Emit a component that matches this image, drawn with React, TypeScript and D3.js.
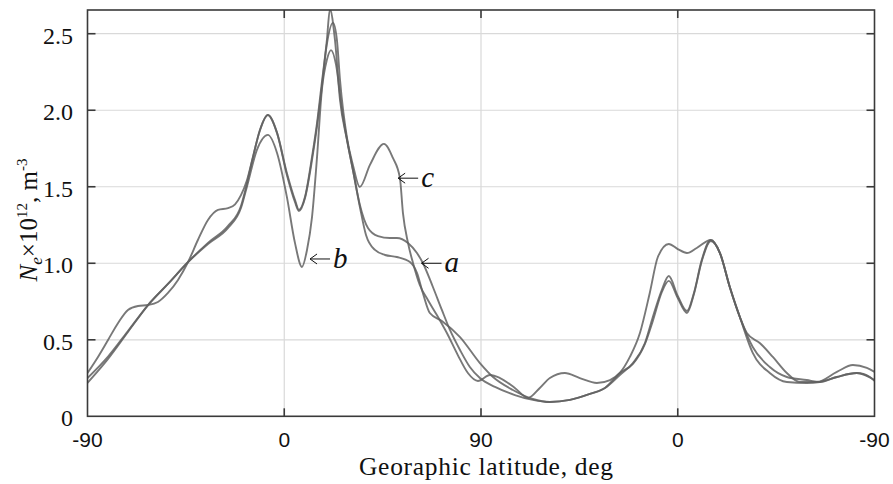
import React from "react";
import * as d3 from "d3";

// Track position along the orbit (deg travelled, 0..360) and tick labels in latitude
const xTicks = [0, 90, 180, 270, 360];
const xTickLabels = ["-90", "0", "90", "0", "-90"];
const yTicks = [0, 0.5, 1, 1.5, 2, 2.5];
const yTickLabels = ["0", "0.5", "1.0", "1.5", "2.0", "2.5"];

// Ne x 1e12 m^-3 along the track
const curveA: [number, number][] = [
  [0, 0.25], [9.4, 0.39], [18.5, 0.557], [27.7, 0.727], [36.8, 0.865], [46.0, 1.008], [55.1, 1.133],
  [64.3, 1.244], [70.2, 1.374], [73.0, 1.525], [75.7, 1.695], [78.9, 1.871], [82.5, 1.969], [86.7, 1.852],
  [91.2, 1.59], [94.9, 1.414], [96.7, 1.349], [99.5, 1.434], [102.7, 1.695], [105.0, 1.917], [106.8, 2.133],
  [109.5, 2.459], [110.9, 2.66], [113.2, 2.459], [115.5, 2.068], [118.7, 1.806], [121.4, 1.61], [124.6, 1.381],
  [128.3, 1.231], [132.9, 1.178], [138.3, 1.165], [141.5, 1.165], [146.6, 1.133], [150.7, 1.067], [153.4, 1.002],
  [158.0, 0.845], [162.1, 0.695], [165.8, 0.564], [170.4, 0.433], [174.9, 0.322], [179.5, 0.25], [186.4, 0.192],
  [195.5, 0.139], [203.7, 0.107], [211.5, 0.093], [220.7, 0.107], [229.8, 0.146], [236.7, 0.185], [243.5, 0.27],
  [249.5, 0.348], [255.0, 0.479], [258.6, 0.649], [262.7, 0.825], [265.9, 0.917], [270.0, 0.786], [274.2, 0.688],
  [277.4, 0.806], [281.0, 1.022], [285.1, 1.152], [289.3, 1.067], [293.8, 0.845], [298.4, 0.649], [304.3, 0.453],
  [312.1, 0.322], [319.9, 0.257], [329.0, 0.237], [335.0, 0.224], [342.8, 0.257], [351.9, 0.283], [357.9, 0.257],
  [360, 0.231],
];

const curveB: [number, number][] = [
  [0, 0.218], [9.4, 0.375], [18.5, 0.551], [27.7, 0.727], [36.8, 0.865], [46.0, 1.008], [55.1, 1.126],
  [64.3, 1.231], [70.2, 1.361], [72.9, 1.499], [77.5, 1.741], [82.5, 1.839], [86.7, 1.721], [91.2, 1.434],
  [94.9, 1.133], [98.1, 0.976], [100.4, 1.087], [102.7, 1.302], [105.0, 1.695], [107.2, 2.133], [109.5, 2.329],
  [111.4, 2.393], [113.7, 2.296], [116.4, 2.002], [118.7, 1.806], [121.4, 1.61], [124.6, 1.368], [127.4, 1.185],
  [131.5, 1.087], [136.1, 1.054], [141.5, 1.041], [147.5, 1.008], [150.7, 0.937], [153.4, 0.806], [156.6, 0.675],
  [162.1, 0.623], [170.4, 0.518], [179.5, 0.348], [185.5, 0.257], [194.6, 0.172], [203.7, 0.113], [211.5, 0.093],
  [220.7, 0.107], [229.8, 0.146], [236.7, 0.185], [243.5, 0.283], [249.5, 0.342], [255.0, 0.473], [258.6, 0.623],
  [262.7, 0.812], [265.9, 0.885], [270.0, 0.773], [274.2, 0.675], [277.4, 0.799], [281.0, 1.015], [285.1, 1.146],
  [289.3, 1.067], [293.8, 0.845], [298.4, 0.649], [304.3, 0.414], [312.1, 0.283], [319.9, 0.224], [329.0, 0.218],
  [335.0, 0.224], [342.8, 0.257], [351.9, 0.283], [360, 0.237],
];

const curveC: [number, number][] = [
  [0, 0.283], [4.8, 0.388], [9.4, 0.499], [14.0, 0.61], [18.5, 0.695], [23.1, 0.721], [27.7, 0.727],
  [32.2, 0.747], [36.8, 0.806], [41.4, 0.891], [46.0, 1.008], [50.5, 1.152], [55.1, 1.283], [59.7, 1.349],
  [64.3, 1.361], [67.5, 1.385], [70.2, 1.445], [72.9, 1.54], [75.7, 1.695], [78.9, 1.871], [82.5, 1.969],
  [86.7, 1.852], [91.2, 1.577], [94.9, 1.401], [96.7, 1.342], [99.5, 1.427], [102.7, 1.675], [105.0, 1.896],
  [106.8, 2.1], [109.5, 2.433], [112.3, 2.571], [114.1, 2.459], [115.5, 2.198], [118.7, 1.819], [121.4, 1.643],
  [124.6, 1.499], [129.2, 1.643], [135.6, 1.78], [139.7, 1.688], [142.9, 1.558], [144.3, 1.328], [146.6, 1.133],
  [148.9, 1.002], [152.0, 0.858], [155.7, 0.76], [159.8, 0.662], [164.4, 0.544], [169.4, 0.4], [174.0, 0.283],
  [178.6, 0.231], [184.1, 0.27], [188.7, 0.25], [195.5, 0.185], [201.5, 0.12], [206.9, 0.185], [211.5, 0.25],
  [218.4, 0.283], [225.2, 0.25], [233.0, 0.218], [239.0, 0.237], [243.5, 0.283], [248.1, 0.388], [252.7, 0.544],
  [257.2, 0.806], [260.9, 1.041], [265.9, 1.126], [270.0, 1.093], [274.2, 1.067], [278.7, 1.1], [285.1, 1.152],
  [289.3, 1.067], [293.8, 0.845], [298.4, 0.649], [301.6, 0.544], [307.5, 0.479], [313.5, 0.388], [319.9, 0.283],
  [325.8, 0.224], [333.6, 0.224], [342.8, 0.29], [350.1, 0.335], [356.5, 0.316], [360, 0.29],
];

const seriesList = [curveA, curveB, curveC];

// Annotation arrows: tip location in data units
const annotationNames = ["a", "b", "c"];
const annotationTips: [number, number][] = [
  [152.8, 1.0],
  [101.8, 1.028],
  [142.1, 1.556],
];

const W = 893;
const H = 484;
const left = 87.5;
const right = 874.5;
const top = 10;
const bottom = 416.3;

export default function App() {
  const x = d3.scaleLinear().domain([0, 360]).range([left, right]);
  const y = d3.scaleLinear().domain([0, 2.655]).range([bottom, top]);
  const line = d3
    .line<[number, number]>()
    .x((d) => x(d[0]))
    .y((d) => y(d[1]))
    .curve(d3.curveMonotoneX);

  const serif = "'Liberation Serif', 'Times New Roman', serif";
  const sans = "'Liberation Sans', Arial, sans-serif";
  const tickLen = 8;

  return (
    <svg width={W} height={H} style={{ position: "absolute", left: 0, top: 0, background: "#fff" }}>
      <defs>
        <clipPath id="plotClip">
          <rect x={left} y={top} width={right - left} height={bottom - top} />
        </clipPath>
      </defs>
      <rect x={0} y={0} width={W} height={H} fill="#fff" />
      {/* grid */}
      {xTicks.slice(1, -1).map((t) => (
        <line key={"gx" + t} x1={x(t)} x2={x(t)} y1={top} y2={bottom} stroke="#d9d9d9" strokeWidth={1.2} />
      ))}
      {yTicks.slice(1).map((t) => (
        <line key={"gy" + t} x1={left} x2={right} y1={y(t)} y2={y(t)} stroke="#d9d9d9" strokeWidth={1.2} />
      ))}
      {/* curves */}
      <g clipPath="url(#plotClip)">
        {seriesList.map((s, i) => (
          <path key={i} d={line(s) || ""} fill="none" stroke="#606060" strokeOpacity={0.85} strokeWidth={1.9} />
        ))}
      </g>
      {/* frame */}
      <rect x={left} y={top} width={right - left} height={bottom - top} fill="none" stroke="#3a3a3a" strokeWidth={1.6} />
      {/* ticks */}
      {xTicks.slice(1, -1).map((t) => (
        <g key={"tx" + t}>
          <line x1={x(t)} x2={x(t)} y1={bottom} y2={bottom - tickLen} stroke="#3a3a3a" strokeWidth={1.6} />
          <line x1={x(t)} x2={x(t)} y1={top} y2={top + tickLen} stroke="#3a3a3a" strokeWidth={1.6} />
        </g>
      ))}
      {yTicks.slice(1).map((t) => (
        <g key={"ty" + t}>
          <line x1={left} x2={left + tickLen} y1={y(t)} y2={y(t)} stroke="#3a3a3a" strokeWidth={1.6} />
          <line x1={right} x2={right - tickLen} y1={y(t)} y2={y(t)} stroke="#3a3a3a" strokeWidth={1.6} />
        </g>
      ))}
      {/* tick labels */}
      {xTicks.map((t, i) => (
        <text key={"lx" + i} x={x(t)} y={447} textAnchor="middle" fontFamily={sans} fontSize={21} fill="#111">
          {xTickLabels[i]}
        </text>
      ))}
      {yTicks.map((t, i) => (
        <text key={"ly" + i} x={73} y={y(t) + 10} textAnchor="end" fontFamily={serif} fontSize={24} fill="#111">
          {yTickLabels[i]}
        </text>
      ))}
      {/* axis titles */}
      <text x={486} y={475} textAnchor="middle" fontFamily={serif} fontSize={25.5} textLength={254} lengthAdjust="spacing" fill="#111">
        Georaphic latitude, deg
      </text>
      <text transform="translate(37,220) rotate(-90)" textAnchor="middle" fontFamily={serif} fontSize={25} fill="#111">
        <tspan fontStyle="italic">N</tspan>
        <tspan fontStyle="italic" fontSize={17} dy={5}>e</tspan>
        <tspan dy={-5}>×10</tspan>
        <tspan fontSize={15} dy={-10}>12</tspan>
        <tspan dy={10}>, m</tspan>
        <tspan fontSize={15} dy={-10}>-3</tspan>
      </text>
      {/* annotations */}
      {annotationTips.map((tip, i) => {
        const tx = x(tip[0]);
        const ty = y(tip[1]);
        return (
          <g key={"an" + i}>
            <line x1={tx} x2={tx + 20} y1={ty} y2={ty} stroke="#111" strokeWidth={1} />
            <path d={`M${tx + 7},${ty - 5} L${tx},${ty} L${tx + 7},${ty + 5}`} fill="none" stroke="#111" strokeWidth={1} />
            <text x={tx + 23} y={ty + 9} fontFamily={serif} fontStyle="italic" fontSize={29} fill="#111">
              {annotationNames[i]}
            </text>
          </g>
        );
      })}
    </svg>
  );
}
